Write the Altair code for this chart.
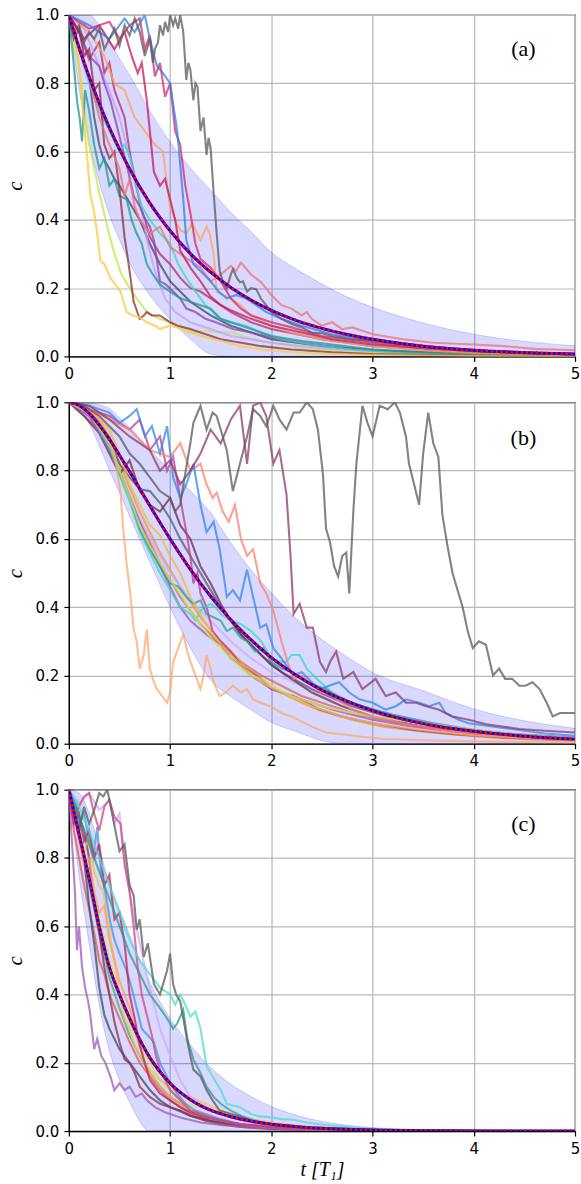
import altair as alt
import pandas as pd

# ---------------- common grid ----------------
grid_t = [0, 0.1, 0.2, 0.3, 0.4, 0.5, 0.6, 0.8, 1.0, 1.2, 1.4, 1.6, 1.8, 2.0, 2.25, 2.5, 2.75, 3.0, 3.5, 4.0, 4.5, 5.0]

# ---------------- panel (a) ----------------
a_mean = [1, 0.905, 0.819, 0.741, 0.670, 0.607, 0.549, 0.449, 0.368, 0.301, 0.247, 0.202, 0.165, 0.135, 0.105, 0.082, 0.064, 0.050, 0.030, 0.018, 0.011, 0.0067]
a_hi = [1, 1, 1, 0.97, 0.925, 0.872, 0.824, 0.719, 0.628, 0.551, 0.487, 0.422, 0.365, 0.305, 0.255, 0.212, 0.174, 0.144, 0.098, 0.065, 0.044, 0.031]
a_lo = [1, 0.785, 0.629, 0.511, 0.415, 0.342, 0.274, 0.179, 0.108, 0.051, 0.007, 0, 0, 0, 0, 0, 0, 0, 0, 0, 0, 0]

a_gray_t = [0, 0.05, 0.1, 0.15, 0.2, 0.25, 0.3, 0.35, 0.4, 0.45, 0.5, 0.55, 0.6, 0.65, 0.7, 0.75, 0.8, 0.83, 0.85, 0.88, 0.9, 0.93, 0.95, 0.98, 1.0, 1.03, 1.05, 1.08, 1.1, 1.13, 1.16, 1.18, 1.2, 1.23, 1.25, 1.27, 1.3, 1.33, 1.36, 1.38, 1.4, 1.43, 1.46, 1.49, 1.52, 1.56, 1.6, 1.62, 1.66, 1.69, 1.72, 1.76, 1.8, 1.85, 1.9, 1.95, 2.0, 2.05, 2.1, 2.2, 2.3, 2.4, 2.5, 2.6, 2.7, 2.8, 3.0, 3.3, 3.6, 4.0, 4.5, 5.0]
a_gray_c = [1, 0.95, 0.97, 0.92, 0.95, 0.93, 0.96, 0.90, 0.93, 0.96, 0.91, 0.97, 0.94, 0.99, 0.95, 0.88, 0.93, 0.86, 0.90, 0.92, 0.97, 0.94, 0.98, 0.95, 1.0, 0.97, 0.99, 0.96, 1.0, 0.95, 0.81, 0.86, 0.84, 0.75, 0.80, 0.79, 0.66, 0.70, 0.59, 0.64, 0.61, 0.48, 0.36, 0.25, 0.22, 0.20, 0.24, 0.255, 0.23, 0.217, 0.22, 0.19, 0.20, 0.197, 0.168, 0.15, 0.13, 0.12, 0.11, 0.095, 0.085, 0.07, 0.068, 0.06, 0.055, 0.05, 0.045, 0.035, 0.026, 0.018, 0.011, 0.007]
a_pink_t = [0, 0.2, 0.4, 0.5, 0.6, 0.7, 0.75, 0.8, 0.85, 0.9, 0.95, 1.0, 1.05, 1.1, 1.15, 1.2, 1.25, 1.3, 1.4, 1.5, 1.6, 1.7, 1.8, 2.0, 2.2, 2.5, 3.0, 3.5, 4.0, 5.0]
a_pink_c = [1, 0.96, 0.98, 0.93, 0.97, 0.99, 0.90, 0.94, 0.82, 0.86, 0.76, 0.80, 0.66, 0.62, 0.50, 0.42, 0.33, 0.285, 0.26, 0.22, 0.17, 0.14, 0.12, 0.10, 0.085, 0.06, 0.04, 0.025, 0.015, 0.006]
a_rose_t = [0, 0.15, 0.3, 0.45, 0.55, 0.62, 0.68, 0.72, 0.77, 0.8, 0.84, 0.9, 0.95, 1.0, 1.05, 1.1, 1.2, 1.3, 1.4, 1.5, 1.6, 1.8, 2.0, 2.3, 2.6, 3.0, 4.0, 5.0]
a_rose_c = [1, 0.93, 0.97, 0.90, 0.95, 0.88, 0.83, 0.86, 0.75, 0.66, 0.54, 0.50, 0.52, 0.46, 0.40, 0.31, 0.26, 0.22, 0.175, 0.15, 0.135, 0.11, 0.09, 0.07, 0.05, 0.035, 0.015, 0.006]
a_blue_t = [0, 0.2, 0.4, 0.55, 0.65, 0.75, 0.8, 0.87, 0.93, 1.0, 1.04, 1.07, 1.1, 1.13, 1.16, 1.2, 1.23, 1.3, 1.4, 1.48, 1.56, 1.65, 1.75, 1.85, 1.95, 2.1, 2.3, 2.6, 3.0, 3.5, 4.0, 4.5, 5.0]
a_blue_c = [1, 0.97, 0.93, 0.99, 0.95, 1.0, 0.93, 0.85, 0.83, 0.80, 0.72, 0.66, 0.56, 0.46, 0.34, 0.30, 0.27, 0.25, 0.22, 0.19, 0.17, 0.18, 0.17, 0.15, 0.13, 0.11, 0.09, 0.065, 0.045, 0.028, 0.017, 0.011, 0.007]
a_orange_t = [0, 0.2, 0.35, 0.45, 0.55, 0.65, 0.75, 0.85, 0.93, 0.97, 1.0, 1.05, 1.1, 1.16, 1.22, 1.3, 1.36, 1.39, 1.43, 1.46, 1.52, 1.6, 1.7, 1.8, 2.0, 2.2, 2.5, 3.0, 3.5, 4.0, 5.0]
a_orange_c = [1, 0.95, 0.88, 0.80, 0.78, 0.70, 0.66, 0.62, 0.60, 0.50, 0.44, 0.40, 0.37, 0.36, 0.39, 0.34, 0.38, 0.36, 0.30, 0.19, 0.18, 0.17, 0.15, 0.12, 0.09, 0.07, 0.05, 0.03, 0.018, 0.01, 0.004]
a_salmon_t = [0, 0.1, 0.2, 0.3, 0.4, 0.5, 0.55, 0.6, 0.65, 0.7, 0.8, 0.9, 1.0, 1.1, 1.2, 1.3, 1.4, 1.5, 1.6, 1.65, 1.7, 1.8, 1.9, 2.0, 2.1, 2.2, 2.3, 2.35, 2.4, 2.5, 2.6, 2.7, 2.8, 2.9, 3.0, 3.3, 3.6, 4.0, 4.3, 4.6, 5.0]
a_salmon_c = [1, 0.9, 0.82, 0.70, 0.62, 0.55, 0.47, 0.52, 0.44, 0.40, 0.36, 0.38, 0.32, 0.30, 0.28, 0.26, 0.22, 0.24, 0.265, 0.25, 0.275, 0.24, 0.217, 0.18, 0.15, 0.14, 0.12, 0.13, 0.11, 0.09, 0.10, 0.08, 0.085, 0.075, 0.065, 0.05, 0.04, 0.035, 0.03, 0.022, 0.018]
a_yellow_t = [0, 0.05, 0.1, 0.13, 0.17, 0.21, 0.25, 0.28, 0.31, 0.35, 0.41, 0.46, 0.51, 0.57, 0.63, 0.7, 0.77, 0.85, 0.9, 1.0, 1.07, 1.2, 1.3, 1.5, 1.7, 1.9, 2.2, 2.6, 3.0, 4.0, 5.0]
a_yellow_c = [1, 0.95, 0.86, 0.75, 0.62, 0.48, 0.42, 0.36, 0.28, 0.27, 0.23, 0.21, 0.19, 0.13, 0.12, 0.115, 0.10, 0.09, 0.08, 0.09, 0.085, 0.07, 0.06, 0.045, 0.03, 0.02, 0.012, 0.007, 0.004, 0.001, 0]
a_brown_t = [0, 0.05, 0.1, 0.15, 0.2, 0.25, 0.3, 0.35, 0.4, 0.45, 0.5, 0.55, 0.6, 0.64, 0.7, 0.74, 0.77, 0.82, 0.9, 1.0, 1.07, 1.2, 1.3, 1.5, 1.7, 1.9, 2.2, 2.6, 3.0, 4.0, 5.0]
a_brown_c = [1, 0.93, 0.96, 0.88, 0.9, 0.78, 0.80, 0.62, 0.58, 0.60, 0.49, 0.35, 0.25, 0.16, 0.11, 0.12, 0.13, 0.12, 0.12, 0.10, 0.09, 0.08, 0.07, 0.05, 0.04, 0.03, 0.02, 0.012, 0.007, 0.002, 0.001]
a_teal_t = [0, 0.04, 0.08, 0.11, 0.13, 0.16, 0.2, 0.25, 0.3, 0.35, 0.4, 0.45, 0.5, 0.57, 0.62, 0.67, 0.72, 0.77, 0.83, 0.9, 1.0, 1.1, 1.2, 1.3, 1.4, 1.5, 1.6, 1.8, 2.0, 2.3, 2.6, 3.0, 3.5, 4.0, 5.0]
a_teal_c = [1, 0.88, 0.75, 0.69, 0.63, 0.78, 0.72, 0.62, 0.55, 0.58, 0.50, 0.52, 0.47, 0.46, 0.40, 0.36, 0.33, 0.27, 0.24, 0.21, 0.19, 0.17, 0.16, 0.15, 0.14, 0.11, 0.10, 0.08, 0.06, 0.045, 0.035, 0.02, 0.012, 0.007, 0.002]
a_turq_t = [0, 0.1, 0.2, 0.3, 0.4, 0.5, 0.55, 0.61, 0.66, 0.72, 0.8, 0.9, 1.0, 1.08, 1.16, 1.25, 1.35, 1.49, 1.6, 1.75, 1.9, 2.1, 2.4, 2.8, 3.2, 3.6, 4.0, 5.0]
a_turq_c = [1, 0.9, 0.8, 0.72, 0.66, 0.60, 0.62, 0.58, 0.50, 0.44, 0.40, 0.36, 0.33, 0.27, 0.23, 0.19, 0.15, 0.11, 0.10, 0.09, 0.07, 0.05, 0.035, 0.02, 0.012, 0.007, 0.004, 0.001]
a_purple_t = [0, 0.1, 0.2, 0.3, 0.35, 0.41, 0.47, 0.52, 0.58, 0.64, 0.7, 0.74, 0.8, 0.84, 0.9, 0.96, 1.03, 1.1, 1.16, 1.25, 1.35, 1.45, 1.62, 1.8, 2.0, 2.3, 2.7, 3.0, 3.5, 4.0, 5.0]
a_purple_c = [1, 0.95, 0.88, 0.85, 0.80, 0.75, 0.68, 0.62, 0.55, 0.47, 0.44, 0.41, 0.38, 0.34, 0.22, 0.21, 0.19, 0.17, 0.14, 0.13, 0.11, 0.10, 0.08, 0.07, 0.055, 0.04, 0.025, 0.018, 0.01, 0.006, 0.002]
a_lav_t = [0, 0.15, 0.3, 0.4, 0.5, 0.6, 0.7, 0.78, 0.85, 0.95, 1.05, 1.2, 1.4, 1.6, 1.8, 2.0, 2.3, 2.7, 3.2, 4.0, 5.0]
a_lav_c = [1, 0.96, 0.85, 0.78, 0.70, 0.58, 0.46, 0.33, 0.25, 0.17, 0.13, 0.10, 0.08, 0.06, 0.05, 0.04, 0.03, 0.02, 0.012, 0.004, 0.001]
a_lime_t = [0, 0.05, 0.1, 0.15, 0.2, 0.25, 0.3, 0.38, 0.45, 0.52, 0.6, 0.67, 0.77, 0.9, 1.0, 1.1, 1.23, 1.35, 1.5, 1.62, 1.8, 2.0, 2.3, 2.7, 3.2, 4.0, 5.0]
a_lime_c = [1, 0.92, 0.85, 0.72, 0.62, 0.55, 0.48, 0.38, 0.30, 0.24, 0.20, 0.17, 0.13, 0.11, 0.10, 0.09, 0.07, 0.075, 0.07, 0.07, 0.05, 0.04, 0.025, 0.015, 0.008, 0.003, 0.001]
a_slate_t = [0, 0.1, 0.2, 0.25, 0.3, 0.34, 0.4, 0.45, 0.5, 0.6, 0.7, 0.8, 0.9, 1.0, 1.2, 1.4, 1.6, 1.8, 2.0, 2.5, 3.0, 4.0, 5.0]
a_slate_c = [1, 0.9, 0.82, 0.70, 0.62, 0.58, 0.55, 0.52, 0.50, 0.45, 0.40, 0.33, 0.27, 0.22, 0.16, 0.12, 0.09, 0.07, 0.05, 0.03, 0.018, 0.007, 0.002]
a_crimson_t = [0, 0.1, 0.2, 0.3, 0.35, 0.4, 0.45, 0.5, 0.55, 0.6, 0.7, 0.8, 0.9, 1.0, 1.1, 1.2, 1.3, 1.4, 1.5, 1.6, 1.8, 2.0, 2.5, 3.0, 4.0, 5.0]
a_crimson_c = [1, 0.95, 0.87, 0.92, 0.83, 0.86, 0.78, 0.74, 0.70, 0.60, 0.45, 0.35, 0.30, 0.27, 0.23, 0.20, 0.19, 0.17, 0.15, 0.13, 0.10, 0.08, 0.05, 0.03, 0.01, 0.004]

# ---------------- panel (b) ----------------
b_mean = [1, 0.991, 0.968, 0.933, 0.892, 0.845, 0.797, 0.697, 0.600, 0.511, 0.432, 0.363, 0.304, 0.252, 0.200, 0.157, 0.124, 0.097, 0.059, 0.0366, 0.0222, 0.0135]
b_hi = [1, 1, 0.998, 0.993, 0.982, 0.955, 0.927, 0.862, 0.80, 0.741, 0.677, 0.588, 0.509, 0.442, 0.365, 0.305, 0.254, 0.209, 0.155, 0.102, 0.067, 0.045]
b_lo = [1, 0.981, 0.938, 0.873, 0.802, 0.735, 0.667, 0.532, 0.40, 0.281, 0.187, 0.138, 0.099, 0.062, 0.035, 0.009, 0, 0, 0, 0, 0, 0]

b_gray_t = [0, 0.1, 0.2, 0.3, 0.4, 0.5, 0.6, 0.7, 0.8, 0.9, 1.0, 1.05, 1.1, 1.16, 1.2, 1.23, 1.3, 1.36, 1.42, 1.46, 1.52, 1.56, 1.62, 1.69, 1.76, 1.82, 1.89, 1.95, 2.02, 2.08, 2.15, 2.22, 2.28, 2.35, 2.41, 2.46, 2.51, 2.54, 2.58, 2.62, 2.66, 2.7, 2.74, 2.77, 2.81, 2.84, 2.9, 2.95, 3.0, 3.07, 3.15, 3.22, 3.27, 3.33, 3.36, 3.41, 3.46, 3.5, 3.55, 3.6, 3.65, 3.69, 3.74, 3.79, 3.84, 3.89, 3.94, 3.99, 4.05, 4.12, 4.19, 4.25, 4.31, 4.38, 4.45, 4.51, 4.58, 4.65, 4.72, 4.78, 4.85, 4.91, 5.0]
b_gray_c = [1, 1, 0.98, 0.96, 0.93, 0.90, 0.85, 0.82, 0.78, 0.74, 0.72, 0.68, 0.70, 0.81, 0.88, 0.94, 0.99, 0.92, 0.97, 0.96, 0.90, 0.86, 0.74, 0.82, 0.90, 0.98, 0.96, 0.93, 0.99, 0.95, 0.92, 0.97, 0.97, 1.0, 0.98, 0.92, 0.79, 0.63, 0.59, 0.52, 0.49, 0.55, 0.56, 0.44, 0.68, 0.82, 0.99, 0.94, 0.90, 0.99, 0.98, 1.0, 0.97, 0.90, 0.82, 0.76, 0.70, 0.85, 0.97, 0.88, 0.84, 0.67, 0.58, 0.50, 0.45, 0.40, 0.33, 0.28, 0.30, 0.29, 0.20, 0.22, 0.19, 0.19, 0.17, 0.17, 0.18, 0.16, 0.12, 0.08, 0.09, 0.09, 0.09]
b_plum_t = [0, 0.2, 0.4, 0.6, 0.8, 0.9, 1.0, 1.1, 1.2, 1.3, 1.4, 1.5, 1.6, 1.69, 1.76, 1.82, 1.89, 1.95, 2.02, 2.08, 2.15, 2.19, 2.22, 2.28, 2.35, 2.41, 2.48, 2.54, 2.58, 2.64, 2.71, 2.81, 2.9, 3.03, 3.13, 3.23, 3.33, 3.43, 3.53, 3.65, 3.79, 3.95, 4.12, 4.3, 4.45, 4.7, 5.0]
b_plum_c = [1, 0.99, 0.95, 0.90, 0.86, 0.80, 0.83, 0.76, 0.80, 0.85, 0.92, 0.88, 0.95, 0.99, 0.82, 0.99, 1.0, 0.96, 0.82, 0.86, 0.73, 0.55, 0.38, 0.41, 0.34, 0.34, 0.24, 0.21, 0.24, 0.27, 0.19, 0.21, 0.16, 0.19, 0.14, 0.15, 0.12, 0.12, 0.11, 0.10, 0.08, 0.07, 0.057, 0.05, 0.043, 0.038, 0.033]
b_blue_t = [0, 0.2, 0.4, 0.5, 0.6, 0.67, 0.75, 0.82, 0.9, 0.97, 1.03, 1.1, 1.16, 1.23, 1.3, 1.36, 1.43, 1.49, 1.56, 1.62, 1.69, 1.76, 1.82, 1.89, 1.95, 2.02, 2.1, 2.22, 2.3, 2.4, 2.48, 2.57, 2.67, 2.77, 2.87, 3.0, 3.13, 3.23, 3.33, 3.46, 3.56, 3.66, 3.72, 3.85, 3.95, 4.2, 4.45, 4.7, 5.0]
b_blue_c = [1, 0.99, 0.97, 0.94, 0.96, 0.98, 0.90, 0.93, 0.85, 0.93, 0.78, 0.72, 0.76, 0.82, 0.70, 0.62, 0.65, 0.57, 0.43, 0.45, 0.42, 0.51, 0.43, 0.34, 0.35, 0.28, 0.25, 0.20, 0.21, 0.18, 0.16, 0.17, 0.18, 0.15, 0.13, 0.12, 0.10, 0.11, 0.13, 0.12, 0.11, 0.12, 0.09, 0.07, 0.06, 0.05, 0.04, 0.03, 0.023]
b_salmon_t = [0, 0.2, 0.4, 0.6, 0.8, 1.0, 1.1, 1.2, 1.3, 1.36, 1.42, 1.46, 1.52, 1.58, 1.64, 1.7, 1.76, 1.82, 1.89, 1.95, 2.02, 2.1, 2.16, 2.22, 2.3, 2.4, 2.5, 2.6, 2.7, 2.8, 3.0, 3.3, 3.7, 4.2, 5.0]
b_salmon_c = [1, 0.98, 0.95, 0.92, 0.86, 0.84, 0.88, 0.80, 0.82, 0.76, 0.72, 0.735, 0.68, 0.65, 0.70, 0.60, 0.55, 0.57, 0.47, 0.44, 0.39, 0.30, 0.24, 0.19, 0.20, 0.17, 0.15, 0.14, 0.12, 0.10, 0.08, 0.06, 0.04, 0.025, 0.012]
b_orange_t = [0, 0.1, 0.2, 0.3, 0.4, 0.45, 0.51, 0.54, 0.57, 0.61, 0.64, 0.67, 0.7, 0.74, 0.77, 0.8, 0.84, 0.87, 0.92, 0.97, 1.0, 1.03, 1.08, 1.13, 1.17, 1.2, 1.25, 1.3, 1.33, 1.36, 1.4, 1.43, 1.49, 1.55, 1.62, 1.7, 1.76, 1.82, 1.89, 1.99, 2.1, 2.2, 2.3, 2.4, 2.54, 2.7, 2.9, 3.13, 3.5, 4.0, 4.5, 5.0]
b_orange_c = [1, 1, 0.98, 0.95, 0.90, 0.85, 0.735, 0.62, 0.53, 0.43, 0.335, 0.30, 0.22, 0.26, 0.335, 0.22, 0.18, 0.16, 0.14, 0.12, 0.15, 0.24, 0.28, 0.32, 0.27, 0.24, 0.20, 0.16, 0.20, 0.26, 0.22, 0.18, 0.14, 0.15, 0.17, 0.15, 0.16, 0.13, 0.12, 0.11, 0.09, 0.08, 0.065, 0.05, 0.033, 0.028, 0.02, 0.014, 0.01, 0.007, 0.005, 0.004]
b_lime_t = [0, 0.2, 0.4, 0.5, 0.6, 0.7, 0.8, 0.9, 1.0, 1.1, 1.2, 1.3, 1.4, 1.5, 1.6, 1.7, 1.8, 1.9, 2.0, 2.2, 2.5, 2.8, 3.1, 3.5, 4.0, 4.5, 5.0]
b_lime_c = [1, 0.97, 0.88, 0.80, 0.72, 0.64, 0.58, 0.53, 0.48, 0.44, 0.39, 0.35, 0.31, 0.28, 0.25, 0.22, 0.20, 0.19, 0.17, 0.14, 0.11, 0.09, 0.075, 0.06, 0.04, 0.025, 0.016]
b_gold_t = [0, 0.2, 0.4, 0.5, 0.6, 0.7, 0.8, 0.9, 1.0, 1.1, 1.2, 1.3, 1.4, 1.5, 1.7, 1.9, 2.1, 2.4, 2.7, 3.0, 3.5, 4.0, 5.0]
b_gold_c = [1, 0.98, 0.92, 0.85, 0.76, 0.70, 0.64, 0.61, 0.55, 0.50, 0.43, 0.38, 0.33, 0.29, 0.23, 0.18, 0.15, 0.11, 0.08, 0.06, 0.04, 0.025, 0.01]
b_teal_t = [0, 0.2, 0.4, 0.5, 0.6, 0.7, 0.8, 0.9, 1.0, 1.08, 1.16, 1.23, 1.3, 1.36, 1.43, 1.5, 1.56, 1.62, 1.7, 1.76, 1.84, 1.92, 2.0, 2.1, 2.2, 2.35, 2.54, 2.7, 2.9, 3.2, 3.6, 4.0, 4.5, 5.0]
b_teal_c = [1, 0.97, 0.88, 0.80, 0.72, 0.63, 0.57, 0.52, 0.47, 0.46, 0.43, 0.41, 0.42, 0.38, 0.37, 0.36, 0.33, 0.34, 0.31, 0.30, 0.27, 0.28, 0.24, 0.22, 0.21, 0.18, 0.16, 0.13, 0.11, 0.085, 0.06, 0.04, 0.025, 0.017]
b_turq_t = [0, 0.2, 0.4, 0.5, 0.6, 0.7, 0.8, 0.9, 1.0, 1.1, 1.2, 1.25, 1.3, 1.4, 1.45, 1.5, 1.6, 1.7, 1.8, 1.9, 2.0, 2.1, 2.15, 2.2, 2.28, 2.35, 2.45, 2.6, 2.8, 3.0, 3.3, 3.7, 4.2, 5.0]
b_turq_c = [1, 0.97, 0.87, 0.79, 0.71, 0.62, 0.56, 0.50, 0.45, 0.40, 0.38, 0.36, 0.39, 0.41, 0.40, 0.38, 0.36, 0.35, 0.33, 0.30, 0.25, 0.24, 0.24, 0.26, 0.26, 0.22, 0.19, 0.15, 0.12, 0.10, 0.07, 0.05, 0.03, 0.013]
b_purple_t = [0, 0.2, 0.4, 0.6, 0.8, 1.0, 1.1, 1.2, 1.3, 1.4, 1.5, 1.6, 1.7, 1.8, 1.9, 2.0, 2.2, 2.4, 2.6, 2.8, 3.0, 3.4, 3.8, 4.3, 5.0]
b_purple_c = [1, 0.96, 0.86, 0.72, 0.58, 0.46, 0.40, 0.36, 0.335, 0.31, 0.29, 0.25, 0.23, 0.20, 0.18, 0.16, 0.14, 0.12, 0.10, 0.085, 0.07, 0.05, 0.035, 0.022, 0.012]
b_magenta_t = [0, 0.2, 0.4, 0.6, 0.7, 0.8, 0.9, 0.97, 1.03, 1.1, 1.16, 1.2, 1.23, 1.27, 1.3, 1.36, 1.42, 1.5, 1.6, 1.7, 1.8, 1.9, 2.0, 2.1, 2.22, 2.35, 2.48, 2.7, 3.0, 3.4, 3.8, 4.3, 5.0]
b_magenta_c = [1, 0.98, 0.96, 0.92, 0.95, 0.86, 0.90, 0.80, 0.84, 0.72, 0.62, 0.55, 0.47, 0.50, 0.44, 0.40, 0.33, 0.30, 0.27, 0.23, 0.21, 0.19, 0.16, 0.15, 0.14, 0.12, 0.10, 0.08, 0.06, 0.04, 0.028, 0.018, 0.01]
b_maroon_t = [0, 0.15, 0.3, 0.4, 0.5, 0.6, 0.7, 0.8, 0.9, 1.0, 1.1, 1.2, 1.3, 1.4, 1.5, 1.6, 1.7, 1.8, 1.9, 2.0, 2.2, 2.4, 2.7, 3.0, 3.5, 4.0, 5.0]
b_maroon_c = [1, 0.96, 0.91, 0.85, 0.79, 0.83, 0.74, 0.70, 0.68, 0.72, 0.64, 0.60, 0.52, 0.47, 0.41, 0.36, 0.32, 0.29, 0.26, 0.23, 0.19, 0.15, 0.11, 0.08, 0.05, 0.03, 0.012]
b_slate_t = [0, 0.2, 0.4, 0.5, 0.6, 0.7, 0.8, 0.9, 1.0, 1.1, 1.2, 1.3, 1.4, 1.5, 1.7, 1.9, 2.1, 2.4, 2.8, 3.2, 3.7, 4.3, 5.0]
b_slate_c = [1, 0.98, 0.90, 0.82, 0.78, 0.745, 0.74, 0.705, 0.66, 0.60, 0.55, 0.50, 0.45, 0.40, 0.32, 0.26, 0.21, 0.16, 0.11, 0.075, 0.05, 0.03, 0.017]
b_lav_t = [0, 0.3, 0.5, 0.7, 0.9, 1.0, 1.2, 1.4, 1.6, 1.8, 2.0, 2.3, 2.6, 3.0, 3.5, 4.0, 5.0]
b_lav_c = [1, 0.93, 0.80, 0.66, 0.55, 0.50, 0.42, 0.36, 0.30, 0.25, 0.21, 0.17, 0.13, 0.10, 0.065, 0.04, 0.015]
b_amber_t = [0, 0.3, 0.5, 0.7, 0.9, 1.1, 1.3, 1.5, 1.7, 1.9, 2.1, 2.3, 2.5, 2.8, 3.1, 3.5, 4.0, 4.5, 5.0]
b_amber_c = [1, 0.93, 0.82, 0.68, 0.56, 0.46, 0.37, 0.30, 0.24, 0.19, 0.15, 0.12, 0.095, 0.07, 0.05, 0.035, 0.022, 0.013, 0.008]
b_red_t = [0, 0.3, 0.5, 0.7, 0.9, 1.1, 1.3, 1.5, 1.7, 1.9, 2.1, 2.3, 2.5, 2.8, 3.1, 3.5, 4.0, 4.5, 5.0]
b_red_c = [1, 0.92, 0.80, 0.65, 0.53, 0.43, 0.35, 0.29, 0.24, 0.20, 0.17, 0.14, 0.12, 0.09, 0.07, 0.05, 0.032, 0.02, 0.012]

# ---------------- panel (c) ----------------
c_mean = [1, 0.87, 0.74, 0.60, 0.48, 0.40, 0.33, 0.215, 0.14, 0.092, 0.061, 0.042, 0.029, 0.020, 0.013, 0.008, 0.005, 0.003, 0.0012, 0.0005, 0.0002, 0.0001]
c_hi = [1, 0.99, 0.93, 0.83, 0.725, 0.65, 0.575, 0.435, 0.33, 0.252, 0.186, 0.137, 0.101, 0.072, 0.046, 0.028, 0.017, 0.010, 0.004, 0.0015, 0.0007, 0.0003]
c_lo = [1, 0.75, 0.55, 0.37, 0.235, 0.15, 0.085, 0, 0, 0, 0, 0, 0, 0, 0, 0, 0, 0, 0, 0, 0, 0]

c_gray_t = [0, 0.05, 0.1, 0.15, 0.2, 0.25, 0.3, 0.34, 0.38, 0.42, 0.46, 0.5, 0.55, 0.6, 0.64, 0.67, 0.7, 0.74, 0.78, 0.84, 0.9, 0.94, 0.97, 1.0, 1.03, 1.06, 1.1, 1.13, 1.16, 1.2, 1.23, 1.3, 1.36, 1.42, 1.49, 1.6, 1.69, 1.8, 2.0, 2.3, 2.7, 3.2, 4.0, 5.0]
c_gray_c = [1, 0.93, 0.88, 0.95, 0.90, 0.94, 0.99, 0.98, 1.0, 0.94, 0.88, 0.82, 0.84, 0.72, 0.69, 0.59, 0.62, 0.51, 0.55, 0.43, 0.40, 0.44, 0.47, 0.52, 0.43, 0.40, 0.38, 0.33, 0.28, 0.22, 0.18, 0.16, 0.12, 0.09, 0.06, 0.05, 0.043, 0.03, 0.02, 0.01, 0.005, 0.002, 0.0005, 0.0001]
c_teal_t = [0, 0.1, 0.2, 0.3, 0.4, 0.5, 0.6, 0.7, 0.8, 0.9, 0.97, 1.03, 1.07, 1.13, 1.17, 1.23, 1.3, 1.36, 1.43, 1.5, 1.6, 1.7, 1.85, 2.0, 2.3, 2.7, 3.2, 4.0, 5.0]
c_teal_c = [1, 0.92, 0.84, 0.76, 0.68, 0.60, 0.52, 0.46, 0.40, 0.36, 0.33, 0.30, 0.315, 0.355, 0.27, 0.21, 0.17, 0.13, 0.10, 0.08, 0.06, 0.045, 0.03, 0.02, 0.01, 0.005, 0.002, 0.0005, 0.0001]
c_turq_t = [0, 0.1, 0.2, 0.3, 0.4, 0.5, 0.6, 0.7, 0.8, 0.9, 1.0, 1.05, 1.1, 1.15, 1.2, 1.25, 1.3, 1.36, 1.42, 1.5, 1.56, 1.62, 1.69, 1.8, 1.89, 2.0, 2.1, 2.22, 2.35, 2.54, 2.8, 3.1, 3.5, 4.0, 5.0]
c_turq_c = [1, 0.95, 0.88, 0.80, 0.72, 0.64, 0.56, 0.50, 0.46, 0.42, 0.40, 0.37, 0.40, 0.37, 0.335, 0.35, 0.30, 0.19, 0.16, 0.12, 0.08, 0.075, 0.07, 0.05, 0.043, 0.04, 0.035, 0.033, 0.025, 0.018, 0.01, 0.005, 0.002, 0.0007, 0.0001]
c_pink_t = [0, 0.05, 0.1, 0.15, 0.2, 0.25, 0.3, 0.35, 0.4, 0.45, 0.51, 0.55, 0.6, 0.64, 0.68, 0.72, 0.77, 0.82, 0.86, 0.9, 0.95, 1.0, 1.1, 1.2, 1.3, 1.45, 1.6, 1.8, 2.0, 2.4, 3.0, 4.0, 5.0]
c_pink_c = [1, 0.92, 0.95, 0.98, 0.99, 0.93, 0.88, 0.95, 0.97, 0.92, 0.90, 0.78, 0.70, 0.60, 0.48, 0.40, 0.34, 0.28, 0.22, 0.18, 0.15, 0.12, 0.09, 0.06, 0.05, 0.035, 0.025, 0.015, 0.01, 0.004, 0.001, 0.0002, 0.0001]
c_crimson_t = [0, 0.05, 0.1, 0.15, 0.2, 0.25, 0.3, 0.35, 0.4, 0.45, 0.5, 0.55, 0.6, 0.65, 0.7, 0.75, 0.8, 0.85, 0.9, 1.0, 1.1, 1.2, 1.35, 1.5, 1.7, 2.0, 2.4, 3.0, 4.0, 5.0]
c_crimson_c = [1, 0.90, 0.93, 0.85, 0.88, 0.80, 0.84, 0.72, 0.75, 0.62, 0.64, 0.55, 0.40, 0.33, 0.25, 0.20, 0.15, 0.13, 0.11, 0.09, 0.07, 0.055, 0.04, 0.03, 0.02, 0.012, 0.006, 0.002, 0.0003, 0.0001]
c_blue_t = [0, 0.05, 0.1, 0.15, 0.2, 0.24, 0.28, 0.32, 0.36, 0.41, 0.45, 0.5, 0.57, 0.62, 0.67, 0.72, 0.78, 0.84, 0.9, 0.95, 1.0, 1.07, 1.15, 1.25, 1.35, 1.5, 1.7, 2.0, 2.4, 3.0, 4.0, 5.0]
c_blue_c = [1, 0.97, 0.90, 0.93, 0.85, 0.80, 0.89, 0.75, 0.70, 0.61, 0.56, 0.52, 0.47, 0.42, 0.36, 0.30, 0.28, 0.26, 0.20, 0.17, 0.14, 0.11, 0.08, 0.06, 0.05, 0.035, 0.02, 0.012, 0.005, 0.002, 0.0003, 0.0001]
c_purple_t = [0, 0.03, 0.06, 0.08, 0.1, 0.13, 0.16, 0.19, 0.21, 0.25, 0.28, 0.32, 0.36, 0.41, 0.45, 0.5, 0.55, 0.6, 0.66, 0.72, 0.77, 0.85, 0.95, 1.1, 1.3, 1.5, 1.8, 2.2, 3.0, 4.0, 5.0]
c_purple_c = [1, 0.85, 0.70, 0.53, 0.60, 0.48, 0.42, 0.38, 0.345, 0.24, 0.27, 0.22, 0.20, 0.16, 0.12, 0.14, 0.12, 0.13, 0.10, 0.11, 0.09, 0.07, 0.055, 0.04, 0.025, 0.018, 0.01, 0.005, 0.001, 0.0002, 0.0001]
c_lav_t = [0, 0.1, 0.2, 0.3, 0.4, 0.45, 0.5, 0.55, 0.6, 0.65, 0.7, 0.75, 0.8, 0.85, 0.9, 1.0, 1.1, 1.2, 1.35, 1.5, 1.7, 2.0, 2.5, 3.0, 4.0, 5.0]
c_lav_c = [1, 0.96, 0.99, 0.94, 0.97, 0.90, 0.93, 0.80, 0.70, 0.62, 0.55, 0.48, 0.42, 0.36, 0.30, 0.22, 0.15, 0.10, 0.07, 0.05, 0.03, 0.015, 0.006, 0.002, 0.0003, 0.0001]
c_orange_t = [0, 0.05, 0.1, 0.15, 0.2, 0.25, 0.3, 0.35, 0.4, 0.45, 0.5, 0.55, 0.6, 0.65, 0.7, 0.75, 0.8, 0.9, 1.0, 1.1, 1.2, 1.3, 1.45, 1.6, 1.8, 2.0, 2.4, 3.0, 4.0, 5.0]
c_orange_c = [1, 0.92, 0.85, 0.78, 0.80, 0.70, 0.64, 0.66, 0.56, 0.50, 0.44, 0.40, 0.36, 0.30, 0.25, 0.20, 0.17, 0.13, 0.10, 0.08, 0.06, 0.05, 0.035, 0.025, 0.015, 0.01, 0.004, 0.001, 0.0002, 0.0001]
c_gold_t = [0, 0.05, 0.1, 0.15, 0.2, 0.25, 0.3, 0.34, 0.38, 0.42, 0.46, 0.5, 0.55, 0.6, 0.65, 0.7, 0.75, 0.8, 0.9, 1.0, 1.1, 1.2, 1.35, 1.5, 1.7, 2.0, 2.4, 3.0, 4.0, 5.0]
c_gold_c = [1, 0.94, 0.88, 0.82, 0.86, 0.76, 0.72, 0.70, 0.62, 0.55, 0.48, 0.40, 0.33, 0.30, 0.25, 0.22, 0.20, 0.18, 0.15, 0.13, 0.11, 0.10, 0.08, 0.06, 0.04, 0.025, 0.012, 0.004, 0.0005, 0.0001]
c_lime_t = [0, 0.1, 0.2, 0.3, 0.4, 0.5, 0.6, 0.7, 0.8, 0.9, 1.0, 1.1, 1.2, 1.3, 1.45, 1.6, 1.8, 2.0, 2.4, 3.0, 4.0, 5.0]
c_lime_c = [1, 0.88, 0.75, 0.62, 0.50, 0.40, 0.32, 0.25, 0.20, 0.15, 0.12, 0.09, 0.075, 0.07, 0.06, 0.045, 0.03, 0.02, 0.008, 0.002, 0.0003, 0.0001]
c_maroon_t = [0, 0.05, 0.1, 0.15, 0.2, 0.25, 0.3, 0.35, 0.4, 0.45, 0.5, 0.55, 0.6, 0.65, 0.7, 0.8, 0.9, 1.0, 1.1, 1.2, 1.35, 1.5, 1.7, 2.0, 2.4, 3.0, 4.0, 5.0]
c_maroon_c = [1, 0.96, 0.92, 0.88, 0.80, 0.66, 0.58, 0.48, 0.40, 0.32, 0.26, 0.21, 0.20, 0.17, 0.13, 0.10, 0.08, 0.07, 0.06, 0.045, 0.03, 0.02, 0.012, 0.006, 0.002, 0.0005, 0.0001, 0.0001]
c_slate_t = [0, 0.05, 0.1, 0.15, 0.2, 0.25, 0.3, 0.35, 0.4, 0.45, 0.5, 0.6, 0.7, 0.8, 0.9, 1.0, 1.2, 1.4, 1.7, 2.0, 2.5, 3.0, 4.0, 5.0]
c_slate_c = [1, 0.93, 0.86, 0.80, 0.66, 0.55, 0.42, 0.34, 0.30, 0.27, 0.24, 0.20, 0.16, 0.12, 0.09, 0.07, 0.045, 0.03, 0.015, 0.008, 0.003, 0.001, 0.0002, 0.0001]
c_red_t = [0, 0.05, 0.1, 0.15, 0.2, 0.25, 0.3, 0.35, 0.4, 0.5, 0.6, 0.7, 0.8, 0.9, 1.0, 1.1, 1.2, 1.4, 1.6, 2.0, 2.5, 3.0, 4.0, 5.0]
c_red_c = [1, 0.88, 0.80, 0.72, 0.65, 0.58, 0.50, 0.46, 0.40, 0.33, 0.26, 0.20, 0.16, 0.12, 0.09, 0.07, 0.05, 0.03, 0.02, 0.01, 0.004, 0.001, 0.0002, 0.0001]
c_green_t = [0, 0.04, 0.08, 0.12, 0.16, 0.2, 0.25, 0.3, 0.4, 0.5, 0.6, 0.7, 0.8, 0.9, 1.0, 1.2, 1.4, 1.7, 2.0, 2.5, 3.0, 4.0, 5.0]
c_green_c = [1, 0.92, 0.97, 0.85, 0.80, 0.72, 0.65, 0.58, 0.45, 0.36, 0.28, 0.22, 0.17, 0.13, 0.10, 0.06, 0.04, 0.02, 0.01, 0.004, 0.001, 0.0002, 0.0001]

# panel tags and their positions
tag_text = ["(a)", "(b)", "(c)"]
tag_t = [4.49, 4.49, 4.49]
tag_c = [0.90, 0.895, 0.90]

# trajectory registry: (name, colour, t list, c list)
a_series = [
    ("crimson", "#b0305a", a_crimson_t, a_crimson_c),
    ("slate", "#3f4766", a_slate_t, a_slate_c),
    ("lime", "#bfe84a", a_lime_t, a_lime_c),
    ("lav", "#c49bff", a_lav_t, a_lav_c),
    ("purple", "#8e3fa8", a_purple_t, a_purple_c),
    ("turq", "#3dd6c6", a_turq_t, a_turq_c),
    ("teal", "#1a9a90", a_teal_t, a_teal_c),
    ("brown", "#8b2d3a", a_brown_t, a_brown_c),
    ("yellow", "#ffc83a", a_yellow_t, a_yellow_c),
    ("salmon", "#f07070", a_salmon_t, a_salmon_c),
    ("orange", "#ffa060", a_orange_t, a_orange_c),
    ("rose", "#c2185b", a_rose_t, a_rose_c),
    ("pink", "#d6276a", a_pink_t, a_pink_c),
    ("blue", "#2f7fe8", a_blue_t, a_blue_c),
    ("gray", "#5a5a5a", a_gray_t, a_gray_c),
]
b_series = [
    ("red", "#e06060", b_red_t, b_red_c),
    ("amber", "#e69a3c", b_amber_t, b_amber_c),
    ("lav", "#d0a8ff", b_lav_t, b_lav_c),
    ("slate", "#4f5a73", b_slate_t, b_slate_c),
    ("maroon", "#6e2b4a", b_maroon_t, b_maroon_c),
    ("magenta", "#c2388a", b_magenta_t, b_magenta_c),
    ("purple", "#a050c0", b_purple_t, b_purple_c),
    ("turq", "#3dd6c0", b_turq_t, b_turq_c),
    ("teal", "#2a9d95", b_teal_t, b_teal_c),
    ("gold", "#f0b840", b_gold_t, b_gold_c),
    ("lime", "#c8e84a", b_lime_t, b_lime_c),
    ("orange", "#ffa86e", b_orange_t, b_orange_c),
    ("salmon", "#ff8070", b_salmon_t, b_salmon_c),
    ("blue", "#3385f0", b_blue_t, b_blue_c),
    ("plum", "#8e3a66", b_plum_t, b_plum_c),
    ("gray", "#5a5a5a", b_gray_t, b_gray_c),
]
c_series = [
    ("green", "#3cb371", c_green_t, c_green_c),
    ("red", "#e05a5a", c_red_t, c_red_c),
    ("slate", "#3d4a5c", c_slate_t, c_slate_c),
    ("maroon", "#8b2e4e", c_maroon_t, c_maroon_c),
    ("lime", "#c5e84c", c_lime_t, c_lime_c),
    ("gold", "#f2c14e", c_gold_t, c_gold_c),
    ("orange", "#ffa050", c_orange_t, c_orange_c),
    ("lav", "#d0a8ff", c_lav_t, c_lav_c),
    ("purple", "#9b59b6", c_purple_t, c_purple_c),
    ("blue", "#4a90e2", c_blue_t, c_blue_c),
    ("crimson", "#c21e56", c_crimson_t, c_crimson_c),
    ("pink", "#d6447e", c_pink_t, c_pink_c),
    ("turq", "#48e0c8", c_turq_t, c_turq_c),
    ("teal", "#2a9d8f", c_teal_t, c_teal_c),
    ("gray", "#5a5a5a", c_gray_t, c_gray_c),
]

XS = alt.Scale(domain=[0, 5], nice=False, zero=False)
YS = alt.Scale(domain=[0, 1], nice=False, zero=False)

# one global colour mapping with unique names per panel
ALL_NAMES = []
ALL_COLS = []
for prefix, ser in (("a", a_series), ("b", b_series), ("c", c_series)):
    for k, s in enumerate(ser):
        ALL_NAMES.append(f"{prefix}{k:02d}_{s[0]}")
        ALL_COLS.append(s[1])
CS = alt.Scale(domain=ALL_NAMES, range=ALL_COLS)


def make_panel(prefix, series, mean, hi, lo, tag_idx, show_xtitle):
    rows = []
    for k, (name, col, ts, cs) in enumerate(series):
        for t, c in zip(ts, cs):
            rows.append({"name": f"{prefix}{k:02d}_{name}", "t": t, "c": c})
    traj = pd.DataFrame(rows)
    band = pd.DataFrame({"t": grid_t, "m": mean, "hi": hi, "lo": lo})
    tag = pd.DataFrame({"t": [tag_t[tag_idx]], "c": [tag_c[tag_idx]], "s": [tag_text[tag_idx]]})

    xaxis = alt.Axis(
        values=[0, 1, 2, 3, 4, 5], format="d", grid=True, gridColor="#b8b8b8", gridWidth=1.2,
        tickColor="black", tickSize=5, tickWidth=1.2, domainColor="black", domainWidth=1.2,
        labelFontSize=15, labelFont="DejaVu Sans", labelColor="black", labelPadding=5,
        labelFlush=False,
        title="t [T₁]" if show_xtitle else None,
        titleFont="Liberation Serif", titleFontSize=20, titleFontWeight="normal",
        titleFontStyle="italic", titleColor="black", titlePadding=4,
    )
    yaxis = alt.Axis(
        values=[0, 0.2, 0.4, 0.6, 0.8, 1.0], format=".1f", grid=True, gridColor="#b8b8b8",
        gridWidth=1.2, tickColor="black", tickSize=5, tickWidth=1.2, domainColor="black",
        domainWidth=1.2, labelFontSize=15, labelFont="DejaVu Sans", labelColor="black",
        labelPadding=5, labelFlush=False, title="c", titleFont="Liberation Serif",
        titleFontSize=21, titleFontWeight="normal", titleFontStyle="italic",
        titleColor="black", titlePadding=10,
    )

    area = alt.Chart(band).mark_area(
        interpolate="monotone", color="#0000ff", fillOpacity=0.15, stroke="#0000ff",
        strokeOpacity=0.18, strokeWidth=1, clip=True,
    ).encode(
        x=alt.X("t:Q", scale=XS, axis=xaxis),
        y=alt.Y("lo:Q", scale=YS, axis=yaxis),
        y2="hi:Q",
    )
    lines = alt.Chart(traj).mark_line(strokeWidth=2.1, opacity=0.75, clip=True).encode(
        x=alt.X("t:Q", scale=XS),
        y=alt.Y("c:Q", scale=YS),
        color=alt.Color("name:N", scale=CS, legend=None),
        order="t:Q",
    )
    mean_blue = alt.Chart(band).mark_line(
        interpolate="monotone", color="#0000ff", strokeWidth=3, clip=True
    ).encode(x=alt.X("t:Q", scale=XS), y=alt.Y("m:Q", scale=YS))
    mean_red = alt.Chart(band).mark_line(
        interpolate="monotone", color="#ff0000", strokeWidth=3, strokeDash=[2.5, 2.5], clip=True
    ).encode(x=alt.X("t:Q", scale=XS), y=alt.Y("m:Q", scale=YS))
    label = alt.Chart(tag).mark_text(
        font="Liberation Serif", fontSize=22, color="black", align="center", baseline="middle"
    ).encode(x=alt.X("t:Q", scale=XS), y=alt.Y("c:Q", scale=YS), text="s:N")

    return alt.layer(area, lines, mean_blue, mean_red, label).properties(width=507, height=342)


pa = make_panel("a", a_series, a_mean, a_hi, a_lo, 0, False)
pb = make_panel("b", b_series, b_mean, b_hi, b_lo, 1, False)
pc = make_panel("c", c_series, c_mean, c_hi, c_lo, 2, True)

chart = alt.vconcat(pa, pb, pc, spacing=46, bounds="flush").properties(
    padding={"left": 3, "top": 6, "right": 0, "bottom": 0},
    background="white",
).configure_view(stroke="black", strokeWidth=1.2)

chart.save("out.html", embed_options={"renderer": "svg", "actions": False})
